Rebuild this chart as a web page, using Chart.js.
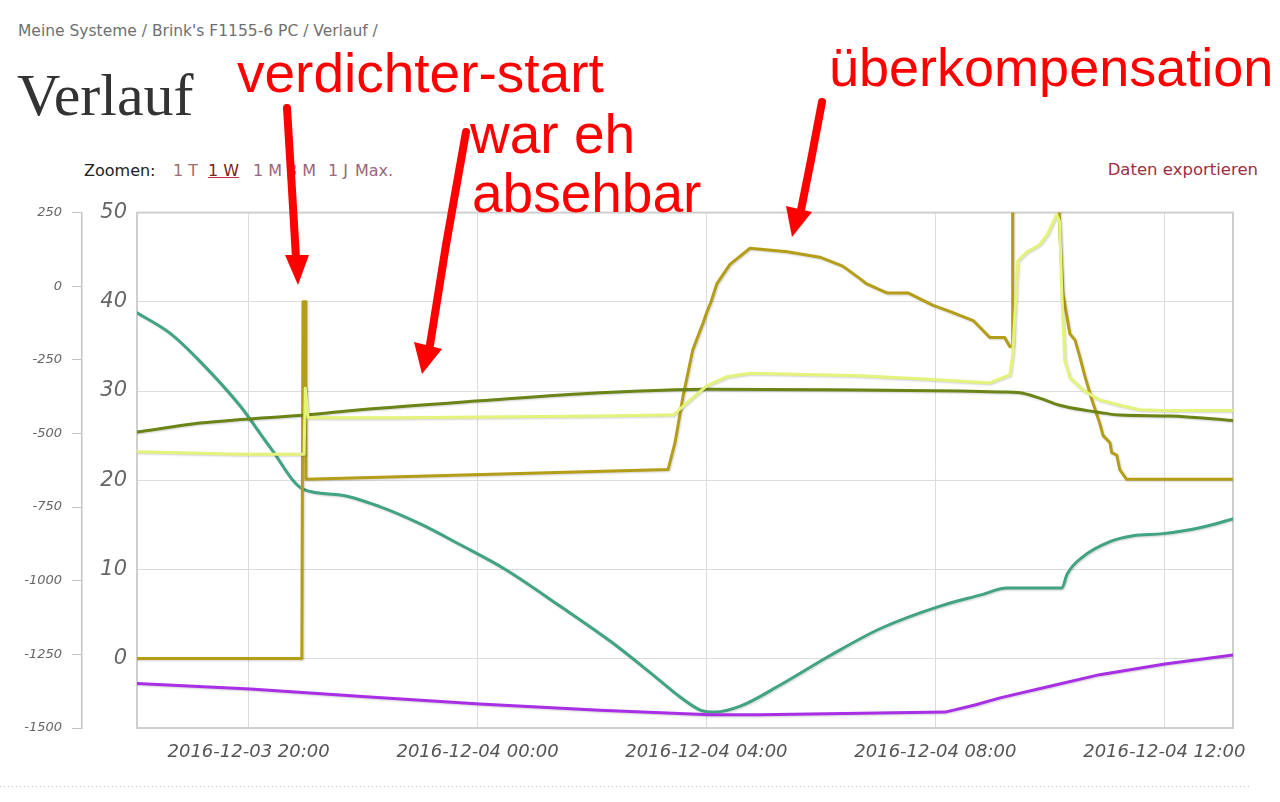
<!DOCTYPE html>
<html lang="de">
<head>
<meta charset="utf-8">
<title>Verlauf</title>
<script src="https://cdn.jsdelivr.net/npm/chart.js@4.4.1/dist/chart.umd.min.js"></script>
<style>
  html, body { margin: 0; padding: 0; background: #fff; }
  body { width: 1280px; height: 802px; position: relative; overflow: hidden; font-family: "DejaVu Sans", sans-serif; }
  #crumbs { position: absolute; left: 18px; top: 22px; font-size: 15.5px; color: #707070; white-space: nowrap; }
  #title { position: absolute; left: 17px; top: 65px; font-family: "Liberation Serif", "DejaVu Serif", serif; font-size: 60px; line-height: 1; color: #333; }
  #zoom { position: absolute; left: 0; top: 161px; width: 420px; height: 24px; font-size: 16px; white-space: nowrap; }
  #zoom span { position: absolute; top: 0; color: #a06e68; }
  #zoom span.lbl { color: #222; }
  #zoom span.on { color: #7d2020; text-decoration: underline; text-decoration-color: #c03040; }
  #zoom span.m { color: #9a6678; }
  #export { position: absolute; right: 22px; top: 160px; font-size: 16.5px; color: #9e2f3f; }
  #wrap { position: absolute; left: 0; top: 190px; width: 1280px; height: 600px; }
  #rule { position: absolute; left: 0; top: 786px; width: 1250px; height: 1px;
          background: repeating-linear-gradient(to right, #c4c4c4 0 1px, transparent 1px 4px); }
  #notes { position: absolute; left: 0; top: 0; pointer-events: none; }
</style>
</head>
<body>
<div id="crumbs">Meine Systeme / Brink's F1155-6 PC / Verlauf /</div>
<div id="title">Verlauf</div>
<div id="zoom">
  <span class="lbl" style="left:84px">Zoomen:</span>
  <span style="left:173px">1 T</span>
  <span class="on" style="left:208px">1 W</span>
  <span class="m" style="left:253px">1 M</span>
  <span class="m" style="left:287px">3 M</span>
  <span class="m" style="left:328px">1 J</span>
  <span class="m" style="left:355px">Max.</span>
</div>
<div id="export">Daten exportieren</div>
<div id="wrap"><canvas id="chart"></canvas></div>
<div id="rule"></div>

<svg id="notes" width="1280" height="802" viewBox="0 0 1280 802">
  <g font-family="Liberation Sans, Arial, sans-serif" font-size="55" fill="#ff0000">
    <text x="237" y="92">verdichter-start</text>
    <text x="470" y="153">war eh</text>
    <text x="472" y="212">absehbar</text>
    <text x="829" y="86" font-size="54">überkompensation</text>
  </g>
  <g stroke="#ff0000" stroke-width="8" stroke-linecap="round" fill="none">
    <path d="M287 108 L292 190 L296 258"/>
    <path d="M466 132 L446 245 L430 345"/>
    <path d="M822 102 L811 160 L801 210"/>
  </g>
  <g fill="#ff0000">
    <polygon points="285,255 309,255 298,285"/>
    <polygon points="414,342 442,349 422,374"/>
    <polygon points="786,206 812,212 792,237"/>
  </g>
</svg>

<script>
// Zeit in Stunden ab 2016-12-03 00:00
const xTicks = [20, 24, 28, 32, 36];
const xTickLabels = ['2016-12-03 20:00', '2016-12-04 00:00', '2016-12-04 04:00', '2016-12-04 08:00', '2016-12-04 12:00'];
const tempTicks = [0, 10, 20, 30, 40, 50];

// Gradminuten (äußere Skala -1500..250)
const gradminTime = [18.05, 18.63, 19.15, 19.85, 20.38, 20.95, 21.60, 22.30, 23.00, 23.69, 24.48, 25.44, 26.31, 27.01, 27.54, 27.89, 28.15, 28.59, 29.28, 30.16, 31.03, 32.08, 32.78, 33.25, 34.21, 34.30, 34.58, 35.05, 35.45, 35.97, 36.62, 37.20];
const gradminVal = [-90, -160, -255, -406, -548, -689, -709, -749, -807, -877, -961, -1086, -1204, -1311, -1395, -1439, -1446, -1426, -1355, -1254, -1163, -1086, -1049, -1025, -1025, -978, -918, -867, -847, -840, -820, -790];

// Außentemperatur
const aussenTime = [18.05, 20.03, 22.12, 24.04, 26.14, 28.06, 28.93, 32.17, 32.69, 33.13, 34.00, 34.87, 36.01, 37.20];
const aussenVal = [-2.8, -3.4, -4.3, -5.1, -5.8, -6.3, -6.3, -6.0, -5.2, -4.4, -3.1, -1.8, -0.6, 0.4];

// Verdichterfrequenz
const verdichterTime = [18.05, 20.93, 20.95, 20.99, 21.00, 27.33, 27.45, 27.59, 27.76, 27.89, 27.94, 28.01, 28.08, 28.18, 28.41, 28.76, 29.41, 29.98, 30.38, 30.68, 30.80, 31.15, 31.52, 31.96, 32.26, 32.66, 32.95, 33.21, 33.30, 33.34, 33.35, 34.12, 34.17, 34.23, 34.35, 34.44, 34.52, 34.61, 34.73, 34.87, 34.93, 35.05, 35.08, 35.17, 35.22, 35.34, 37.20];
const verdichterVal = [0, 0, 40, 40, 20.1, 21.2, 24.2, 29.4, 34.6, 36.8, 37.6, 38.9, 40.0, 42.0, 44.2, 46.0, 45.6, 45.0, 44.0, 42.6, 42.0, 41.0, 41.0, 39.6, 38.9, 37.9, 36.0, 36.0, 35.0, 35.0, 62, 62, 48.3, 40.9, 36.4, 35.7, 33.9, 31.7, 29.1, 26.4, 25.0, 24.2, 23.1, 22.8, 21.2, 20.1, 20.1];

// Vorlauftemperatur
const vorlaufTime = [18.05, 19.85, 20.97, 20.99, 21.04, 22.65, 26.14, 27.28, 27.42, 27.66, 28.01, 28.36, 28.76, 30.68, 31.96, 32.95, 33.30, 33.35, 33.44, 33.60, 33.82, 33.96, 34.12, 34.17, 34.21, 34.26, 34.35, 34.58, 34.87, 35.22, 35.57, 36.10, 37.20];
const vorlaufVal = [23.2, 22.9, 22.9, 30.3, 27.0, 27.0, 27.2, 27.3, 27.3, 28.7, 30.6, 31.6, 32.0, 31.7, 31.3, 30.9, 31.8, 34.0, 44.6, 45.6, 46.4, 47.6, 49.8, 49.0, 40.9, 33.4, 31.5, 30.1, 29.0, 28.4, 27.9, 27.8, 27.8];

// Rücklauftemperatur
const ruecklaufTime = [18.05, 19.15, 19.85, 20.99, 21.95, 24.04, 26.14, 28.01, 30.68, 32.43, 33.13, 33.48, 33.82, 34.17, 34.65, 34.87, 35.22, 36.10, 37.20];
const ruecklaufVal = [25.4, 26.4, 26.8, 27.3, 27.9, 28.9, 29.8, 30.2, 30.1, 30.0, 29.9, 29.8, 29.2, 28.4, 27.8, 27.6, 27.3, 27.2, 26.7];

const pts = (t, v) => t.map((x, i) => ({ x, y: v[i] }));

function line(data, color, axis, order, smooth) {
  return {
    data, yAxisID: axis, borderColor: color, borderWidth: 3,
    pointRadius: 0, tension: smooth ? 0.4 : 0, fill: false, order,
    cubicInterpolationMode: smooth ? 'monotone' : 'default',
    borderJoinStyle: 'round', borderCapStyle: 'round'
  };
}

// Rahmen um den Plotbereich und leichter Schatten unter den Linien
const frame = {
  id: 'frame',
  beforeDatasetsDraw(chart) {
    const { ctx, chartArea: a } = chart;
    ctx.save();
    ctx.strokeStyle = '#cfcfcf';
    ctx.lineWidth = 2;
    ctx.strokeRect(a.left, a.top, a.width, a.height);
    ctx.restore();
    ctx.save();
    ctx.shadowColor = 'rgba(0,0,0,0.18)';
    ctx.shadowBlur = 2;
    ctx.shadowOffsetX = 1;
    ctx.shadowOffsetY = 1;
  },
  afterDatasetsDraw(chart) {
    chart.ctx.restore();
  }
};

const tickFont = size => ({ family: 'DejaVu Sans', size, style: 'italic' });

new Chart(document.getElementById('chart'), {
  type: 'line',
  data: {
    datasets: [
      line(pts(vorlaufTime, vorlaufVal), '#e4f37a', 'yT', 1, false),
      line(pts(ruecklaufTime, ruecklaufVal), '#6b8416', 'yT', 2, true),
      line(pts(verdichterTime, verdichterVal), '#b59e17', 'yT', 3, false),
      line(pts(aussenTime, aussenVal), '#a82fe6', 'yT', 4, false),
      line(pts(gradminTime, gradminVal), '#40a483', 'yG', 5, true)
    ]
  },
  options: {
    responsive: true,
    maintainAspectRatio: false,
    animation: false,
    layout: { padding: { top: 18, right: 47, left: 0, bottom: 0 } },
    plugins: { legend: { display: false }, tooltip: { enabled: false } },
    scales: {
      x: {
        type: 'linear', min: 18.05, max: 37.20,
        afterBuildTicks: s => { s.ticks = xTicks.map(v => ({ value: v })); },
        afterFit: s => { s.height = 62; },
        ticks: {
          callback: v => xTickLabels[xTicks.indexOf(v)] || '',
          color: '#555', font: tickFont(18), padding: 14, maxRotation: 0, autoSkip: false
        },
        grid: { color: '#dcdcdc', drawTicks: false },
        border: { display: false }
      },
      yT: {
        position: 'left', weight: 0, min: -7.78, max: 50,
        afterBuildTicks: s => { s.ticks = tempTicks.map(v => ({ value: v })); },
        afterFit: s => { s.width = 55; },
        ticks: { callback: v => String(v), color: '#666', font: tickFont(21), padding: 10 },
        grid: { color: '#dcdcdc', drawTicks: false },
        border: { display: false }
      },
      yG: {
        position: 'left', weight: 1, min: -1500, max: 250,
        afterFit: s => { s.width = 82; },
        ticks: { stepSize: 250, callback: v => String(v), color: '#666', font: tickFont(13), padding: 10 },
        grid: { drawOnChartArea: false, drawTicks: true, tickLength: 10, color: '#c4c4c4' },
        border: { display: true, color: '#c4c4c4', width: 1.5 }
      }
    }
  },
  plugins: [frame]
});
</script>
</body>
</html>
